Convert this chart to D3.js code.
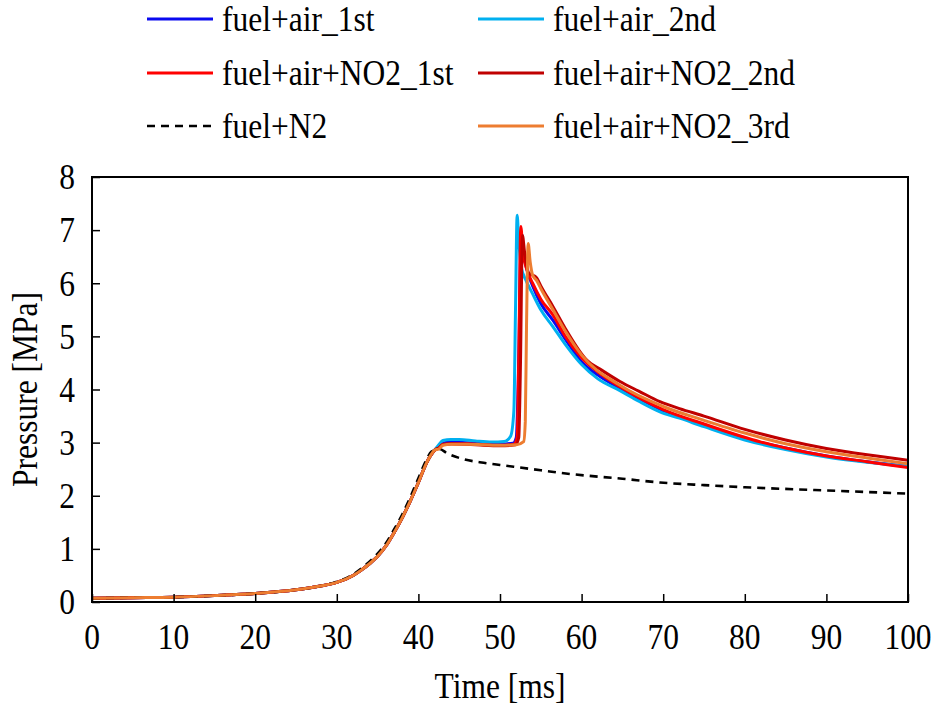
<!DOCTYPE html>
<html><head><meta charset="utf-8">
<script src="https://cdn.jsdelivr.net/npm/d3@7"></script>
<style>body{margin:0;background:#fff}svg{display:block}</style>
</head><body>
<svg id="c" width="938" height="708"></svg>
<script>
// shared compression stroke (ms, MPa)
const compT = [0,5,10,15,20,25,28,30,32,33,34,35,36,37,38,39,40,41,41.5,42];
const compP = [0.07,0.08,0.09,0.12,0.16,0.23,0.30,0.37,0.50,0.60,0.72,0.86,1.05,1.30,1.58,1.90,2.25,2.62,2.76,2.86];

const air1T = [42.5,43,44,46,48,50,51.6,52.0,52.3,52.6,52.9,53.4,54,55,56.5,58,60,62,64.7,67,70,75,80,85,90,95,100];
const air1P = [2.92,2.99,3.01,3.0,2.98,2.97,2.99,3.1,4.6,6.95,6.55,6.2,5.95,5.62,5.3,4.95,4.52,4.27,4.02,3.83,3.6,3.33,3.08,2.9,2.75,2.64,2.55];

const air2T = [42.5,43,44,45,47,49,50.5,51.3,51.7,51.9,52.1,52.3,52.6,53.2,54,55,56.5,58,60,62,64.7,67,69.6,72,75,80,85,90,95,100];
const air2P = [2.96,3.04,3.06,3.06,3.03,3.01,3.02,3.12,3.6,5.5,7.28,6.8,6.3,6.05,5.8,5.5,5.18,4.85,4.47,4.2,3.98,3.78,3.58,3.46,3.3,3.05,2.87,2.73,2.63,2.55];

const no2aT = [42.5,43,44,46,48,50,51.7,52.1,52.3,52.55,52.8,53.3,54,55,56.5,58,60,62,64.7,70,75,82,85,90,95,100];
const no2aP = [2.9,2.97,2.98,2.98,2.96,2.95,2.97,3.1,4.6,7.07,6.6,6.25,6.0,5.7,5.4,5.0,4.6,4.33,4.05,3.62,3.35,3.01,2.9,2.75,2.64,2.53];

const no2bT = [42.5,43,44,46,48,50,51.9,52.3,52.5,52.75,53.0,53.5,54.5,55,56.5,58,60.6,62.5,64.7,67,69.6,72,75,80,85,90,95,100];
const no2bP = [2.9,2.96,2.98,2.97,2.95,2.94,2.96,3.1,4.4,6.9,6.6,6.2,6.1,5.95,5.56,5.15,4.56,4.36,4.15,3.97,3.77,3.64,3.5,3.25,3.05,2.89,2.77,2.67];

const no2cT = [42.5,43,44,46,48,50,52,52.9,53.1,53.25,53.45,53.7,54,54.5,55,56.5,58,60,64.7,70,75,80,85,90,95,100];
const no2cP = [2.88,2.95,2.97,2.97,2.96,2.95,2.96,3.02,3.4,5.2,6.75,6.4,6.15,6.05,5.9,5.5,5.1,4.65,4.08,3.68,3.42,3.18,2.98,2.83,2.71,2.6];

const n2T = [0,5,10,15,20,25,28,30,32,33,34,35,36,37,38,39,40,41,41.6,42.6,43.5,45.5,48,50,55,58.6,65,69.6,75,80,90,100];
const n2P = [0.07,0.08,0.09,0.12,0.16,0.23,0.30,0.38,0.52,0.63,0.76,0.91,1.1,1.36,1.64,1.97,2.33,2.68,2.83,2.88,2.8,2.69,2.62,2.58,2.48,2.41,2.32,2.25,2.2,2.16,2.1,2.04];

const xTicks = [0,10,20,30,40,50,60,70,80,90,100];
const yTicks = [0,1,2,3,4,5,6,7,8];

function withComp(T,P){ return compT.map((t,i)=>[t,compP[i]]).concat(T.map((t,i)=>[t,P[i]])); }

const series = [
  {name:"fuel+air_1st", color:"#0A0AF0", data:withComp(air1T,air1P), dash:null, col:0,row:0},
  {name:"fuel+air_2nd", color:"#00B0F0", data:withComp(air2T,air2P), dash:null, col:1,row:0},
  {name:"fuel+air+NO2_1st", color:"#FF0000", data:withComp(no2aT,no2aP), dash:null, col:0,row:1},
  {name:"fuel+air+NO2_2nd", color:"#C00000", data:withComp(no2bT,no2bP), dash:null, col:1,row:1},
  {name:"fuel+N2", color:"#000000", data:n2T.map((t,i)=>[t,n2P[i]]), dash:"8,6", col:0,row:2},
  {name:"fuel+air+NO2_3rd", color:"#ED7D31", data:withComp(no2cT,no2cP), dash:null, col:1,row:2}
];

const svg = d3.select("#c");
const L=92, R=908, T=177, B=602;
const x = d3.scaleLinear().domain([0,100]).range([L,R]);
const y = d3.scaleLinear().domain([0,8]).range([B,T]);
const font = '"Liberation Serif"';
const FS = 31.5, SY = 1.12;

function txt(px,py,str,anchor,rot){
  svg.append("text")
    .attr("transform",`translate(${px},${py}) rotate(${rot||0}) scale(1,${SY})`)
    .attr("text-anchor",anchor||"start").attr("dy","0.35em")
    .style("font-family",font).style("font-size",FS+"px").attr("fill","#000").text(str);
}

svg.append("clipPath").attr("id","pc").append("rect")
  .attr("x",L).attr("y",T).attr("width",R-L).attr("height",B-T);

const line = d3.line().x(d=>x(d[0])).y(d=>y(d[1])).curve(d3.curveMonotoneX);
const g = svg.append("g").attr("clip-path","url(#pc)");
series.forEach(s=>{
  g.append("path").attr("d",line(s.data)).attr("fill","none")
   .attr("stroke",s.color).attr("stroke-width",s.dash?2.6:3)
   .attr("stroke-dasharray",s.dash).attr("stroke-linejoin","round");
});

// axes (ticks inside)
const xa = svg.append("g").attr("transform",`translate(0,${B})`)
  .call(d3.axisBottom(x).tickValues(xTicks).tickSize(-8).tickFormat(""));
const ya = svg.append("g").attr("transform",`translate(${L},0)`)
  .call(d3.axisLeft(y).tickValues(yTicks).tickSize(-8).tickFormat(""));
[xa,ya].forEach(a=>{
  a.select(".domain").remove();
  a.selectAll(".tick line").attr("stroke","#000").attr("stroke-width",1.5);
});
xTicks.forEach(v=>txt(x(v),637,String(v),"middle"));
yTicks.forEach(v=>txt(L-17,y(v),String(v),"end"));

svg.append("rect").attr("x",L).attr("y",T).attr("width",R-L).attr("height",B-T)
  .attr("fill","none").attr("stroke","#000").attr("stroke-width",2);

txt((L+R)/2,686,"Time [ms]","middle");
txt(25,(T+B)/2,"Pressure [MPa]","middle",-90);

// legend
const colX=[147,478], rowY=[19,73,126];
series.forEach(s=>{
  const lx=colX[s.col], ly=rowY[s.row];
  svg.append("line").attr("x1",lx).attr("x2",lx+66).attr("y1",ly).attr("y2",ly)
    .attr("stroke",s.color).attr("stroke-width",s.dash?2.6:3).attr("stroke-dasharray",s.dash);
  txt(lx+75,ly,s.name,"start");
});
</script>
</body></html>
